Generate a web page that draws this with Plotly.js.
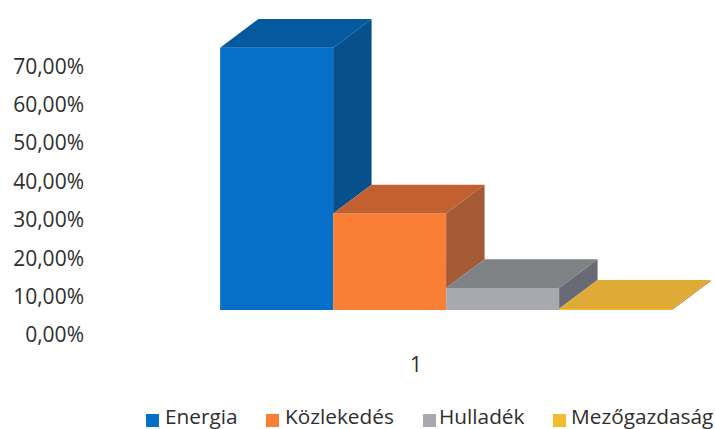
<!DOCTYPE html>
<html><head><meta charset="utf-8">
<script src="https://cdn.plot.ly/plotly-3.0.1.min.js"></script>
<style>html,body{margin:0;padding:0;background:#fff}#c{width:715px;height:429px}</style>
</head><body><div id="c"></div>
<script>
const categoryLabel = ['1'];
const seriesNames = ['Energia', 'Közlekedés', 'Hulladék', 'Mezőgazdaság'];
const seriesValues = [68.3, 25.1, 5.7, 0.3];
const yTicks = [0, 10, 20, 30, 40, 50, 60, 70];
const yTickLabels = ['0,00%', '10,00%', '20,00%', '30,00%', '40,00%', '50,00%', '60,00%', '70,00%'];
const frontColors = ['#0670C8', '#F97F36', '#A6A9AD', '#F2BC2E'];
const topColors = ['#05599F', '#C2612F', '#7F8285', '#E0AA36'];
const sideColors = ['#07508C', '#A45A35', '#686B76', '#B8892C'];
const legendSwatchPx = [146, 266, 423, 553];
const legendTextPx = [164, 284, 438, 570];

const floor = 6.51;     // front floor edge above the axis origin
const depthX = 0.34;    // receding depth, in x units
const depthY = 7.5;     // receding depth, in y units
const hw = 0.5;
const M = {l: 88, r: 0, t: 0, b: 94};
const plotW = 715 - M.l - M.r, plotH = 429 - M.t - M.b;
const px = x => (x - M.l) / plotW;
const py = y => (plotH + M.t - y) / plotH;

const traces = [];
seriesValues.forEach((v, i) => {
  traces.push({
    type: 'bar', x: [i], y: [v], base: [floor], width: [1],
    name: seriesNames[i], showlegend: false,
    marker: {color: frontColors[i], line: {width: 0}},
    hovertemplate: seriesNames[i] + ': %{y:.2f}%<extra></extra>'
  });
});
seriesValues.forEach((v, i) => {
  const t = floor + v;
  const next = floor + (i + 1 < seriesValues.length ? seriesValues[i + 1] : 0);
  const l = i - hw, r = i + hw;
  if (t > next) {
    traces.push({
      type: 'scatter', mode: 'lines', fill: 'toself', fillcolor: sideColors[i],
      line: {width: 0}, showlegend: false, hoverinfo: 'skip',
      x: [r, r + depthX, r + depthX, r, r],
      y: [t, t + depthY, next + depthY, next, t]
    });
  }
  traces.push({
    type: 'scatter', mode: 'lines', fill: 'toself', fillcolor: topColors[i],
    line: {width: 0}, showlegend: false, hoverinfo: 'skip',
    x: [l, l + depthX, r + depthX, r, l],
    y: [t, t + depthY, t + depthY, t, t]
  });
});

const layout = {
  width: 715, height: 429,
  margin: Object.assign({autoexpand: false}, M),
  paper_bgcolor: '#fff', plot_bgcolor: '#fff',
  barmode: 'overlay',
  showlegend: false,
  font: {family: '"Open Sans", sans-serif', size: 21, color: '#2e2e2e'},
  xaxis: {
    range: [-1.669, 3.879], tickmode: 'array', tickvals: [1.234], ticktext: categoryLabel,
    showgrid: false, zeroline: false, showline: false, ticks: '', ticklabelstandoff: 15,
    fixedrange: true
  },
  yaxis: {
    range: [0, 87.24], tickmode: 'array', tickvals: yTicks, ticktext: yTickLabels,
    showgrid: false, zeroline: false, showline: false, ticks: '', ticklabelstandoff: 3,
    fixedrange: true
  },
  shapes: seriesNames.map((n, i) => ({
    type: 'rect', xref: 'paper', yref: 'paper', layer: 'above',
    x0: px(legendSwatchPx[i]), x1: px(legendSwatchPx[i] + 13),
    y0: py(414), y1: py(427), fillcolor: frontColors[i], line: {width: 0}
  })),
  annotations: seriesNames.map((n, i) => ({
    text: n, showarrow: false, xref: 'paper', yref: 'paper',
    x: px(legendTextPx[i]), y: py(416), xanchor: 'left', yanchor: 'middle',
    borderpad: 0, font: {size: 20.8, color: '#2e2e2e'}
  }))
};
Plotly.newPlot('c', traces, layout, {displayModeBar: false});
</script></body></html>
